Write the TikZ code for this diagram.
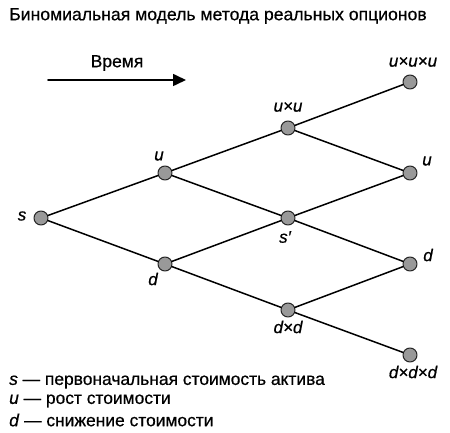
\documentclass[tikz,border=0pt]{standalone}
\usepackage{fontspec}
\setmainfont{Liberation Sans}[FakeBold=0.6]
\usetikzlibrary{arrows.meta}
\tikzset{
  vertex/.style={circle,draw=black!85,fill=black!40,minimum size=14pt,inner sep=0pt,line width=1pt},
  edge/.style={line width=1.5pt},
  lbl/.style={font=\fontsize{17}{19}\selectfont\itshape,inner sep=1pt}
}
\begin{document}
\begin{tikzpicture}[x=1pt,y=-1pt,line join=round,line cap=round,>={Triangle[length=13pt,width=12pt]}]
       	\useasboundingbox (0,0) rectangle (450,433);
       	\node[anchor=west,font=\fontsize{17.6}{19}\selectfont,inner sep=0pt] (title) at (9,16) {Биномиальная модель метода реальных опционов};
       	\node[font=\fontsize{17.5}{19}\selectfont] (time) at (117,63) {Время};
       	\coordinate (t0) at (48,80);
       	\coordinate (t1) at (186,80);
       	\draw[->,line width=1.6pt] (t0)--(t1);
       	% nodes of the tree
       	\node[vertex] (s) at (41,218) {};
       	\node[vertex] (u) at (165,173) {};
       	\node[vertex] (d) at (165,264) {};
       	\node[vertex] (uu) at (288,128) {};
       	\node[vertex] (s1) at (288,218) {};
       	\node[vertex] (dd) at (288,310) {};
       	\node[vertex] (uuu) at (410,82) {};
       	\node[vertex] (u2) at (410,173) {};
       	\node[vertex] (d2) at (410,264) {};
       	\node[vertex] (ddd) at (410,355) {};
       	% labels
       	\node[lbl] at (22,216) {s};
       	\node[lbl] at (159,156) {u};
       	\node[lbl] at (153,279) {d};
       	\node[lbl] at (288,107) {u×u};
       	\node[lbl] at (285,237) {s′};
       	\node[lbl] at (288,327) {d×d};
       	\node[lbl] at (413,62) {u×u×u};
       	\node[lbl] at (427,161) {u};
       	\node[lbl] at (428,255) {d};
       	\node[lbl] at (413,372) {d×d×d};
       	% edges
       	\draw[edge] (s)--(u) (s)--(d);
       	\draw[edge] (u)--(uu) (u)--(s1) (d)--(s1) (d)--(dd);
       	\draw[edge] (uu)--(uuu) (uu)--(u2) (s1)--(u2) (s1)--(d2) (dd)--(d2) (dd)--(ddd);
       	% legend
       	\node[anchor=west,font=\fontsize{17.4}{19}\selectfont,inner sep=0pt] (leg1) at (9,382) {\textit{s} — первоначальная стоимость актива};
       	\node[anchor=west,font=\fontsize{17.4}{19}\selectfont,inner sep=0pt] (leg2) at (9,401) {\textit{u} — рост стоимости};
       	\node[anchor=west,font=\fontsize{17.4}{19}\selectfont,inner sep=0pt] (leg3) at (9,420) {\textit{d} — снижение стоимости};
       \end{tikzpicture}
\end{document}
